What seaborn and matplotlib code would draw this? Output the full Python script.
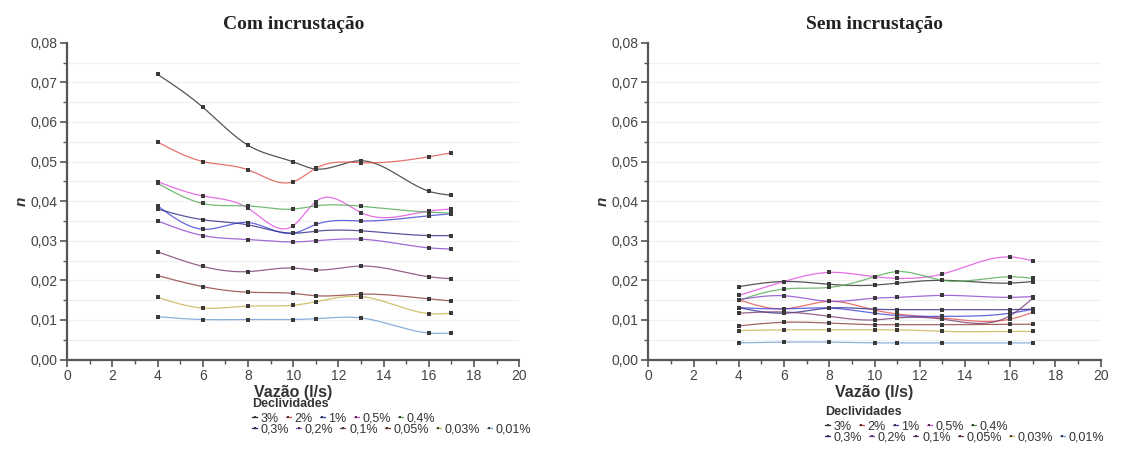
import numpy as np
import pandas as pd
import matplotlib
matplotlib.use("Agg")
import matplotlib.pyplot as plt
import seaborn as sns
from matplotlib.lines import Line2D
from matplotlib.ticker import FuncFormatter, MultipleLocator

# vazão (l/s) where each slope was measured
vazao = [4, 6, 8, 10, 11, 13, 16, 17]

declividades = ["3%", "2%", "1%", "0,5%", "0,4%",
                "0,3%", "0,2%", "0,1%", "0,05%", "0,03%", "0,01%"]

cores = ["#2b2b2b", "#e0504a", "#3f3fd6", "#e04ce0", "#52a852",
         "#2c2c8a", "#8c44d0", "#7a3c70", "#8e3b3b", "#c9b24a", "#6f9bd3"]

# Manning n, with incrustation
com_3 = [0.0720, 0.0637, 0.0541, 0.0499, 0.0481, 0.0502, 0.0425, 0.0415]
com_2 = [0.0549, 0.0500, 0.0479, 0.0449, 0.0483, 0.0497, 0.0512, 0.0522]
com_1 = [0.0388, 0.0329, 0.0346, 0.0319, 0.0341, 0.0350, 0.0363, 0.0368]
com_05 = [0.0449, 0.0413, 0.0382, 0.0338, 0.0399, 0.0371, 0.0375, 0.0380]
com_04 = [0.0445, 0.0394, 0.0388, 0.0380, 0.0388, 0.0387, 0.0372, 0.0370]
com_03 = [0.0380, 0.0353, 0.0340, 0.0319, 0.0324, 0.0325, 0.0313, 0.0313]
com_02 = [0.0350, 0.0313, 0.0303, 0.0297, 0.0300, 0.0304, 0.0282, 0.0279]
com_01 = [0.0272, 0.0235, 0.0222, 0.0231, 0.0226, 0.0236, 0.0209, 0.0204]
com_005 = [0.0212, 0.0184, 0.0170, 0.0167, 0.0161, 0.0165, 0.0153, 0.0148]
com_003 = [0.0157, 0.0130, 0.0135, 0.0137, 0.0146, 0.0159, 0.0116, 0.0117]
com_001 = [0.0108, 0.0101, 0.0101, 0.0101, 0.0103, 0.0105, 0.0067, 0.0067]

# Manning n, without incrustation
sem_3 = [0.0184, 0.0197, 0.0190, 0.0188, 0.0193, 0.0200, 0.0193, 0.0197]
sem_2 = [0.0151, 0.0128, 0.0147, 0.0125, 0.0115, 0.0105, 0.0102, 0.0119]
sem_1 = [0.0131, 0.0128, 0.0130, 0.0117, 0.0111, 0.0109, 0.0117, 0.0127]
sem_05 = [0.0162, 0.0197, 0.0220, 0.0209, 0.0205, 0.0216, 0.0259, 0.0249]
sem_04 = [0.0150, 0.0178, 0.0182, 0.0209, 0.0222, 0.0200, 0.0209, 0.0205]
sem_03 = [0.0131, 0.0117, 0.0130, 0.0127, 0.0126, 0.0126, 0.0126, 0.0127]
sem_02 = [0.0151, 0.0161, 0.0147, 0.0155, 0.0157, 0.0162, 0.0157, 0.0159]
sem_01 = [0.0117, 0.0120, 0.0109, 0.0100, 0.0105, 0.0102, 0.0111, 0.0155]
sem_005 = [0.0085, 0.0094, 0.0092, 0.0088, 0.0088, 0.0088, 0.0089, 0.0089]
sem_003 = [0.0073, 0.0075, 0.0075, 0.0075, 0.0075, 0.0071, 0.0071, 0.0071]
sem_001 = [0.0042, 0.0044, 0.0044, 0.0042, 0.0042, 0.0042, 0.0042, 0.0042]

com = [com_3, com_2, com_1, com_05, com_04, com_03, com_02, com_01, com_005, com_003, com_001]
sem = [sem_3, sem_2, sem_1, sem_05, sem_04, sem_03, sem_02, sem_01, sem_005, sem_003, sem_001]


def spline(x, y, n=200):
    # natural cubic spline, just for drawing a smooth connecting line
    x = np.asarray(x, float)
    y = np.asarray(y, float)
    h = np.diff(x)
    m = len(x)
    A = np.zeros((m, m))
    b = np.zeros(m)
    A[0, 0] = A[-1, -1] = 1
    for i in range(1, m - 1):
        A[i, i - 1] = h[i - 1]
        A[i, i] = 2 * (h[i - 1] + h[i])
        A[i, i + 1] = h[i]
        b[i] = 6 * ((y[i + 1] - y[i]) / h[i] - (y[i] - y[i - 1]) / h[i - 1])
    M = np.linalg.solve(A, b)
    xs = np.linspace(x[0], x[-1], n)
    k = np.clip(np.searchsorted(x, xs) - 1, 0, m - 2)
    t0 = x[k + 1] - xs
    t1 = xs - x[k]
    ys = (M[k] * t0**3 + M[k + 1] * t1**3) / (6 * h[k]) \
        + (y[k] / h[k] - M[k] * h[k] / 6) * t0 \
        + (y[k + 1] / h[k] - M[k + 1] * h[k] / 6) * t1
    return xs, ys


sns.set_theme(style="white")
plt.rcParams["font.family"] = ["Liberation Sans", "DejaVu Sans"]

fig = plt.figure(figsize=(11.46, 4.54), dpi=100)
ax1 = fig.add_axes([0.0587, 0.2081, 0.3944, 0.6978])
ax2 = fig.add_axes([0.5657, 0.2081, 0.3948, 0.6978])

fmt = FuncFormatter(lambda v, p: f"{v:.2f}".replace(".", ","))

for ax, dados, titulo in [(ax1, com, "Com incrustação"), (ax2, sem, "Sem incrustação")]:
    for serie, cor in zip(dados, cores):
        xs, ys = spline(vazao, serie)
        sns.lineplot(x=xs, y=ys, color=cor, linewidth=0.9, ax=ax, alpha=0.8)
        sns.scatterplot(x=vazao, y=serie, color="#3a3a3a", marker="s", s=5,
                        linewidth=0, ax=ax, zorder=3)
    ax.set_xlim(0, 20)
    ax.set_ylim(0, 0.08)
    ax.xaxis.set_major_locator(MultipleLocator(2))
    ax.xaxis.set_minor_locator(MultipleLocator(1))
    ax.yaxis.set_major_locator(MultipleLocator(0.01))
    ax.yaxis.set_minor_locator(MultipleLocator(0.005))
    ax.yaxis.set_major_formatter(fmt)
    for yy in np.arange(0.005, 0.08, 0.005):
        ax.axhline(yy, color="#f0f0f0", linewidth=0.8, zorder=0)
    for s in ["top", "right"]:
        ax.spines[s].set_visible(False)
    for s in ["left", "bottom"]:
        ax.spines[s].set_color("#555555")
        ax.spines[s].set_linewidth(1.6)
    ax.tick_params(which="major", direction="out", length=5, width=1.2,
                   color="#555555", labelsize=10, labelcolor="#444444",
                   left=True, bottom=True, pad=2)
    ax.tick_params(which="minor", direction="out", length=3, width=1.0,
                   color="#555555", left=True, bottom=True)
    ax.set_xlabel("Vazão (l/s)", fontsize=11.5, fontweight="bold", color="#333333", labelpad=1)
    ax.set_ylabel("n", fontsize=11, fontweight="bold", style="italic", color="#333333", labelpad=1)
    ax.set_title(titulo, fontsize=14, fontweight="bold", family=["Liberation Serif", "DejaVu Serif"],
                 color="#222222", pad=10)

handles = [Line2D([], [], color=c, linewidth=1.0, marker="s", markersize=2,
                  markerfacecolor="#3a3a3a", markeredgewidth=0) for c in cores]

opts = dict(loc="upper left", frameon=False, fontsize=9, handlelength=0.4,
            handletextpad=0.3, columnspacing=0.55, borderaxespad=0, borderpad=0,
            labelspacing=0.2, labelcolor="#333333")

for x0, y0, y1 in [(0.220, 0.123, 0.067), (0.720, 0.105, 0.050)]:
    leg1 = fig.legend(handles[:5], declividades[:5], ncol=5, bbox_to_anchor=(x0, y0),
                      title="Declividades", alignment="left",
                      title_fontproperties={"weight": "bold", "size": 9}, **opts)
    leg1.get_title().set_color("#333333")
    fig.legend(handles[5:], declividades[5:], ncol=6, bbox_to_anchor=(x0, y1), **opts)

fig.savefig("out.png", dpi=100)
